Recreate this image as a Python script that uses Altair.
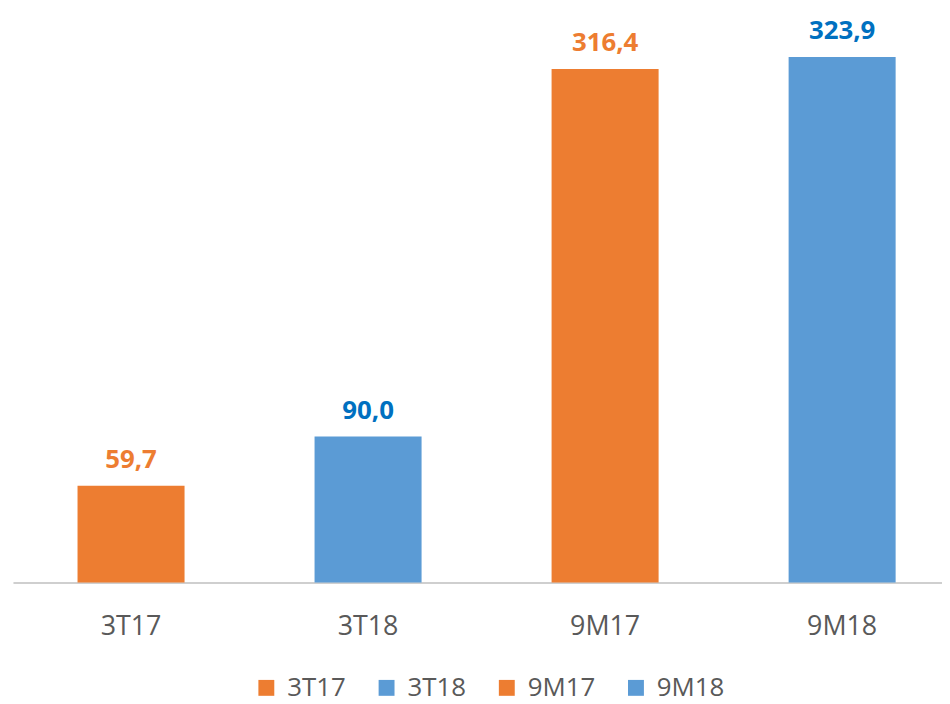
import altair as alt
import pandas as pd

categories = ["3T17", "3T18", "9M17", "9M18"]
values = [59.7, 90.0, 316.4, 323.9]
labels = ["59,7", "90,0", "316,4", "323,9"]
bar_colors = ["#ED7D31", "#5B9BD5", "#ED7D31", "#5B9BD5"]
label_colors = ["#ED7D31", "#0070C0", "#ED7D31", "#0070C0"]

df = pd.DataFrame({
    "cat": categories,
    "val": values,
    "lbl": labels,
    "lblcolor": label_colors,
})

xenc = alt.X(
    "cat:N",
    sort=categories,
    title=None,
    scale=alt.Scale(paddingInner=0.5485, paddingOuter=0.234, align=0.582),
    axis=alt.Axis(
        labelAngle=0,
        labelFont="Open Sans",
        labelFontSize=27,
        labelColor="#595959",
        labelPadding=31,
        ticks=False,
        domainColor="#BFBFBF",
        domainWidth=1.5,
    ),
)
yenc = alt.Y("val:Q", title=None, scale=alt.Scale(domain=[0, 352.7], nice=False), axis=None)

bars = alt.Chart(df).mark_bar().encode(
    x=xenc,
    y=yenc,
    color=alt.Color(
        "cat:N",
        sort=categories,
        scale=alt.Scale(domain=categories, range=bar_colors),
        legend=alt.Legend(
            title=None,
            orient="none",
            legendX=242,
            legendY=669,
            direction="horizontal",
            symbolType="square",
            symbolSize=256,
            symbolStrokeWidth=0,
            labelFont="Open Sans",
            labelFontSize=26,
            labelColor="#595959",
            labelOffset=8,
            columnPadding=28,
        ),
    ),
)

text = alt.Chart(df).mark_text(
    baseline="alphabetic", dy=-18, font="Open Sans", fontWeight="bold", fontSize=26
).encode(
    x=alt.X("cat:N", sort=categories),
    y="val:Q",
    text="lbl:N",
    color=alt.Color("lblcolor:N", scale=None),
)

chart = (
    alt.layer(bars, text)
    .properties(width=935, height=576, padding={"left": 5, "top": 0, "right": 0, "bottom": 0})
    .configure_view(stroke=None)
    .configure_axis(grid=False)
)

chart.save("out.html", embed_options={"renderer": "svg", "actions": False})
